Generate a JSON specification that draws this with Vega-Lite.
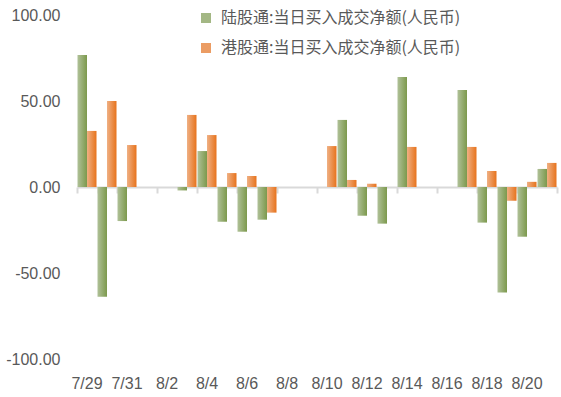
{
  "$schema": "https://vega.github.io/schema/vega-lite/v6.json",
  "width": 480,
  "height": 344,
  "autosize": {"type": "none"},
  "padding": {"left": 77, "top": 15, "right": 4, "bottom": 38},
  "background": "white",
  "config": {"view": {"stroke": null}, "font": "Liberation Sans"},
  "data": {
    "values": [
      {"d": "7/29", "s": "陆股通:当日买入成交净额(人民币)", "v": 76.7},
      {"d": "7/29", "s": "港股通:当日买入成交净额(人民币)", "v": 32.6},
      {"d": "7/30", "s": "陆股通:当日买入成交净额(人民币)", "v": -63.8},
      {"d": "7/30", "s": "港股通:当日买入成交净额(人民币)", "v": 50.0},
      {"d": "7/31", "s": "陆股通:当日买入成交净额(人民币)", "v": -19.8},
      {"d": "7/31", "s": "港股通:当日买入成交净额(人民币)", "v": 24.4},
      {"d": "8/3", "s": "陆股通:当日买入成交净额(人民币)", "v": -2.0},
      {"d": "8/3", "s": "港股通:当日买入成交净额(人民币)", "v": 41.9},
      {"d": "8/4", "s": "陆股通:当日买入成交净额(人民币)", "v": 20.9},
      {"d": "8/4", "s": "港股通:当日买入成交净额(人民币)", "v": 30.2},
      {"d": "8/5", "s": "陆股通:当日买入成交净额(人民币)", "v": -20.2},
      {"d": "8/5", "s": "港股通:当日买入成交净额(人民币)", "v": 8.1},
      {"d": "8/6", "s": "陆股通:当日买入成交净额(人民币)", "v": -26.0},
      {"d": "8/6", "s": "港股通:当日买入成交净额(人民币)", "v": 6.4},
      {"d": "8/7", "s": "陆股通:当日买入成交净额(人民币)", "v": -19.0},
      {"d": "8/7", "s": "港股通:当日买入成交净额(人民币)", "v": -14.9},
      {"d": "8/10", "s": "港股通:当日买入成交净额(人民币)", "v": 23.8},
      {"d": "8/11", "s": "陆股通:当日买入成交净额(人民币)", "v": 39.0},
      {"d": "8/11", "s": "港股通:当日买入成交净额(人民币)", "v": 4.1},
      {"d": "8/12", "s": "陆股通:当日买入成交净额(人民币)", "v": -16.7},
      {"d": "8/12", "s": "港股通:当日买入成交净额(人民币)", "v": 1.9},
      {"d": "8/13", "s": "陆股通:当日买入成交净额(人民币)", "v": -21.3},
      {"d": "8/14", "s": "陆股通:当日买入成交净额(人民币)", "v": 64.0},
      {"d": "8/14", "s": "港股通:当日买入成交净额(人民币)", "v": 23.3},
      {"d": "8/17", "s": "陆股通:当日买入成交净额(人民币)", "v": 56.4},
      {"d": "8/17", "s": "港股通:当日买入成交净额(人民币)", "v": 23.3},
      {"d": "8/18", "s": "陆股通:当日买入成交净额(人民币)", "v": -20.7},
      {"d": "8/18", "s": "港股通:当日买入成交净额(人民币)", "v": 9.3},
      {"d": "8/19", "s": "陆股通:当日买入成交净额(人民币)", "v": -61.4},
      {"d": "8/19", "s": "港股通:当日买入成交净额(人民币)", "v": -8.0},
      {"d": "8/20", "s": "陆股通:当日买入成交净额(人民币)", "v": -28.9},
      {"d": "8/20", "s": "港股通:当日买入成交净额(人民币)", "v": 3.0},
      {"d": "8/21", "s": "陆股通:当日买入成交净额(人民币)", "v": 10.5},
      {"d": "8/21", "s": "港股通:当日买入成交净额(人民币)", "v": 14.0}
    ]
  },
  "resolve": {"axis": {"x": "independent"}},
  "layer": [
    {
      "mark": {"type": "bar"},
      "encoding": {
        "x": {
          "field": "d", "type": "nominal",
          "scale": {
            "domain": ["7/29","7/30","7/31","8/1","8/2","8/3","8/4","8/5","8/6","8/7","8/8","8/9","8/10","8/11","8/12","8/13","8/14","8/15","8/16","8/17","8/18","8/19","8/20","8/21"],
            "paddingInner": 0.05, "paddingOuter": 0.025
          },
          "axis": {
            "orient": "bottom", "title": null, "values": ["7/29","7/31","8/2","8/4","8/6","8/8","8/10","8/12","8/14","8/16","8/18","8/20"],
            "labelAngle": 0, "domain": false, "ticks": false, "grid": false,
            "labelPadding": 16, "labelFontSize": 16, "labelColor": "#595959", "labelFont": "Liberation Sans"
          }
        },
        "xOffset": {
          "field": "s", "type": "nominal",
          "sort": ["陆股通:当日买入成交净额(人民币)", "港股通:当日买入成交净额(人民币)"],
          "scale": {"paddingInner": 0, "paddingOuter": 0}
        },
        "y": {
          "field": "v", "type": "quantitative",
          "scale": {"domain": [-100, 100], "nice": false},
          "axis": {
            "title": null, "values": [-100, -50, 0, 50, 100], "grid": false, "domain": false, "ticks": false,
            "labelExpr": "replace(format(datum.value, '.2f'), '\u2212', '-')",
            "labelPadding": 17, "labelFontSize": 16, "labelColor": "#595959", "labelFont": "Liberation Sans"
          }
        },
        "color": {
          "condition": {
            "test": "datum.s === '陆股通:当日买入成交净额(人民币)'",
            "value": {"gradient": "linear", "x1": 0, "y1": 0, "x2": 1, "y2": 0,
              "stops": [{"offset": 0, "color": "#b0c199"}, {"offset": 1, "color": "#7c994c"}]}
          },
          "value": {"gradient": "linear", "x1": 0, "y1": 0, "x2": 1, "y2": 0,
            "stops": [{"offset": 0, "color": "#efb084"}, {"offset": 1, "color": "#e7731c"}]}
        }
      }
    },
    {
      "mark": {"type": "square", "opacity": 0},
      "encoding": {
        "x": {
          "field": "d", "type": "nominal",
          "axis": {
            "orient": "bottom", "offset": -172, "title": null,
            "values": ["7/30","8/1","8/3","8/5","8/7","8/9","8/11","8/13","8/15","8/17","8/19","8/21"],
            "labels": false, "grid": false,
            "domainColor": "#d9d9d9", "domainWidth": 2,
            "tickColor": "#d9d9d9", "tickWidth": 2, "tickSize": 6, "tickBand": "extent", "tickExtra": false
          }
        },
        "y": {"field": "v", "type": "quantitative"},
        "color": {
          "field": "s", "type": "nominal",
          "scale": {"domain": ["陆股通:当日买入成交净额(人民币)", "港股通:当日买入成交净额(人民币)"], "range": ["#a3b784", "#eb9c63"]},
          "legend": {
            "orient": "none", "legendX": 121, "legendY": -5, "title": null,
            "symbolType": "square", "symbolSize": 100, "symbolOpacity": 1, "symbolStrokeWidth": 0,
            "labelFont": "Noto Sans CJK SC", "labelFontSize": 16, "labelColor": "#595959",
            "labelLimit": 400, "labelOffset": 7, "rowPadding": 14, "padding": 0, "direction": "vertical"
          }
        }
      }
    },
    {
      "mark": {"type": "square", "opacity": 0},
      "encoding": {
        "x": {
          "field": "d", "type": "nominal",
          "axis": {
            "orient": "bottom", "offset": -172, "title": null,
            "values": ["7/29"], "bandPosition": 0,
            "labels": false, "grid": false, "domain": false,
            "tickColor": "#d9d9d9", "tickWidth": 2, "tickSize": 6, "tickExtra": false
          }
        },
        "y": {"field": "v", "type": "quantitative"}
      }
    }
  ]
}
